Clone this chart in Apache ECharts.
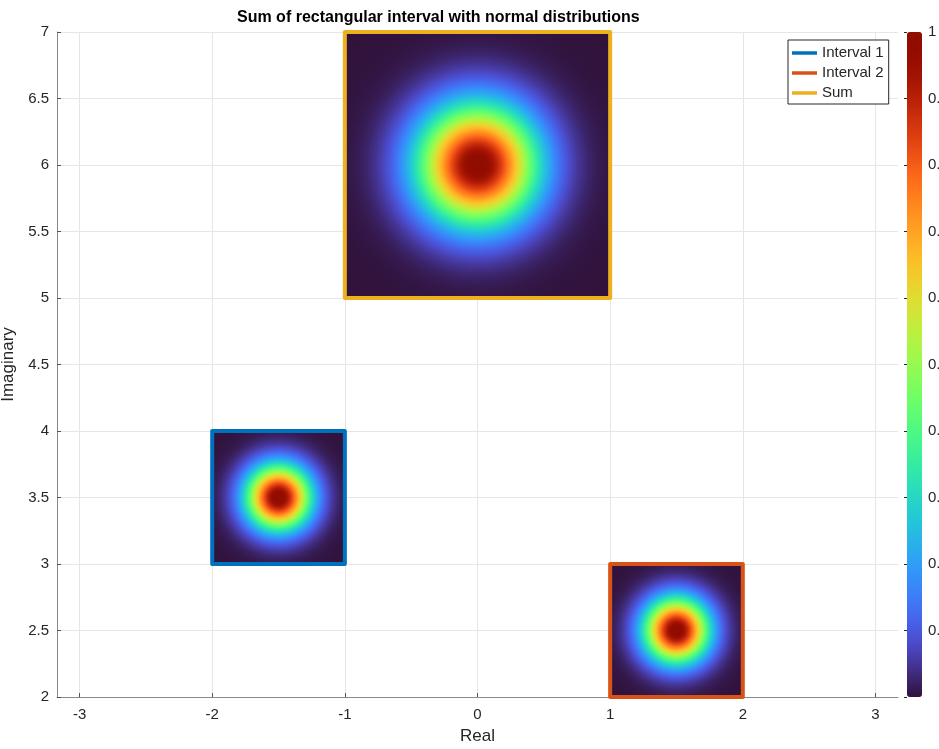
<!DOCTYPE html>
<html><head><meta charset="utf-8">
<script src="https://cdn.jsdelivr.net/npm/echarts@6/dist/echarts.min.js"></script>
<style>html,body{margin:0;padding:0;background:#fff}#c{width:939px;height:749px}</style>
</head><body><div id="c"></div>
<script>
// ---- chart content ----
const titleText = 'Sum of rectangular interval with normal distributions';
const xName = 'Real';
const yName = 'Imaginary';
const seriesNames = ['Interval 1', 'Interval 2', 'Sum'];
const seriesColors = ['#0072BD', '#D95319', '#EDB120'];
// rectangles: [realMin, imagMin, realMax, imagMax]
const rectInterval1 = [-2, 3, -1, 4];
const rectInterval2 = [1, 2, 2, 3];
const rectSum = [-1, 5, 1, 7];
// normal distribution centres [real, imag]
const centerInterval1 = [-1.5, 3.5];
const centerInterval2 = [1.5, 2.5];
const centerSum = [0, 6];
// standard deviation of each normal distribution
const stdInterval1 = 0.163;
const stdInterval2 = 0.163;
const stdSum = 0.305;
// axes
const xRange = [-3.17, 3.17];
const xTicks = [-3, -2, -1, 0, 1, 2, 3];
const yRange = [2, 7];
const yInterval = 0.5;
const cbarRange = [0, 1];
const cbarInterval = 0.1;

const FONT = '"Liberation Sans", Arial, Helvetica, sans-serif';
const TXT = '#262626';

function turboPoly(t) {
  const r = 0.13572138 + t*(4.61539260 + t*(-42.66032258 + t*(132.13108234 + t*(-152.94239396 + t*59.28637943))));
  const g = 0.09140261 + t*(2.19418839 + t*(4.84296658 + t*(-14.18503333 + t*(4.27729857 + t*2.82956604))));
  const b = 0.10667330 + t*(12.64194608 + t*(-60.58204836 + t*(110.36276771 + t*(-89.90310912 + t*27.34824973))));
  return [r, g, b];
}
const TURBO_START = [0.18995, 0.07176, 0.23217];
const BLEND_T = 0.06;
function turbo(t) {
  t = Math.max(0, Math.min(1, t));
  let rgb;
  if (t < BLEND_T) {
    const p = turboPoly(BLEND_T), k = t / BLEND_T;
    rgb = [0, 1, 2].map(i => TURBO_START[i] + (p[i] - TURBO_START[i]) * k);
  } else {
    rgb = turboPoly(t);
  }
  const c = v => Math.round(Math.max(0, Math.min(1, v)) * 255);
  return 'rgb(' + c(rgb[0]) + ',' + c(rgb[1]) + ',' + c(rgb[2]) + ')';
}
const turboColors = [];
for (let i = 0; i <= 64; i++) turboColors.push(turbo(i / 64));

const GRAD_R = 0.72; // gradient radius as fraction of the square side (covers corners)
function gaussGradient(cx, cy, sigFrac) {
  const stops = [];
  const vals = [];
  for (let i = 0; i < 40; i++) vals.push(1 - i / 40);
  vals.push(0.015, 0.008, 0.004, 0.002, 0.001, 0.0003, 0.0001);
  let last = -1;
  vals.forEach(v => {
    let off = sigFrac * Math.sqrt(-2 * Math.log(v)) / GRAD_R;
    off = Math.min(1, off);
    if (off <= last) return;
    last = off;
    stops.push({ offset: off, color: turbo(v) });
  });
  if (last < 1) stops.push({ offset: 1, color: turbo(0) });
  return new echarts.graphic.RadialGradient(cx, cy, GRAD_R, stops);
}

function makeSeries(idx, rect, center, std) {
  return {
    type: 'custom',
    name: seriesNames[idx],
    coordinateSystem: 'cartesian2d',
    xAxisIndex: 0, yAxisIndex: 0,
    silent: true,
    animation: false,
    z: 2 + idx,
    itemStyle: { color: seriesColors[idx] },
    encode: { x: [0, 2, 4], y: [1, 3, 5] },
    data: [rect.concat(center, [std])],
    renderItem: function (params, api) {
      const x0 = api.value(0), y0 = api.value(1), x1 = api.value(2), y1 = api.value(3);
      const tl = api.coord([x0, y1]);
      const br = api.coord([x1, y0]);
      const w = br[0] - tl[0], h = br[1] - tl[1];
      const cx = (api.value(4) - x0) / (x1 - x0);
      const cy = (y1 - api.value(5)) / (y1 - y0);
      const sigFrac = api.value(6) / (x1 - x0);
      return {
        type: 'rect',
        shape: { x: tl[0], y: tl[1], width: w, height: h },
        style: {
          fill: gaussGradient(cx, cy, sigFrac),
          stroke: seriesColors[idx],
          lineWidth: 4,
          lineJoin: 'round'
        }
      };
    }
  };
}

const chart = echarts.init(document.getElementById('c'), null, { renderer: 'canvas' });
chart.setOption({
  animation: false,
  backgroundColor: '#ffffff',
  textStyle: { fontFamily: FONT },
  title: {
    text: titleText,
    left: 237, top: 10, padding: 0,
    textStyle: { fontFamily: FONT, fontSize: 16, fontWeight: 'bold', color: '#000' }
  },
  legend: {
    data: seriesNames,
    left: 788, top: 40,
    orient: 'vertical',
    icon: 'rect',
    itemWidth: 25, itemHeight: 3.5,
    itemGap: 4,
    padding: [5, 5, 3, 4],
    borderColor: '#262626', borderWidth: 1,
    backgroundColor: '#fff',
    selectedMode: false,
    textStyle: { fontFamily: FONT, fontSize: 15, color: TXT, lineHeight: 16 },
    z: 20
  },
  grid: [
    { left: 57, top: 32, right: 41, bottom: 52, containLabel: false, outerBoundsMode: 'none' },
    { left: 907, top: 32, width: 15, height: 665, containLabel: false, outerBoundsMode: 'none' }
  ],
  xAxis: [
    {
      type: 'value', gridIndex: 0, min: xRange[0], max: xRange[1],
      name: xName, nameLocation: 'middle', nameGap: 31,
      nameTextStyle: { fontFamily: FONT, fontSize: 17, color: TXT },
      axisLine: { show: true, onZero: false, lineStyle: { color: '#8a8a8a', width: 1 } },
      axisTick: { show: true, inside: true, length: 4, customValues: xTicks, lineStyle: { color: '#555' } },
      axisLabel: { customValues: xTicks, fontFamily: FONT, fontSize: 15, color: TXT, margin: 10 },
      splitLine: { show: true, lineStyle: { color: '#e6e6e6', width: 1 } }
    },
    { type: 'value', gridIndex: 1, show: false, min: 0, max: 1 }
  ],
  yAxis: [
    {
      type: 'value', gridIndex: 0, min: yRange[0], max: yRange[1], interval: yInterval,
      name: yName, nameLocation: 'middle', nameGap: 34,
      nameTextStyle: { fontFamily: FONT, fontSize: 17, color: TXT },
      axisLine: { show: true, onZero: false, lineStyle: { color: '#8a8a8a', width: 1 } },
      axisTick: { show: true, inside: true, length: 4, lineStyle: { color: '#555' } },
      axisLabel: { fontFamily: FONT, fontSize: 15, color: TXT, margin: 8 },
      splitLine: { show: true, lineStyle: { color: '#e6e6e6', width: 1 } }
    },
    {
      type: 'value', gridIndex: 1, position: 'right',
      min: cbarRange[0], max: cbarRange[1], interval: cbarInterval, z: 10,
      axisLine: { show: false },
      axisTick: { show: true, inside: true, length: 3, lineStyle: { color: '#262626' } },
      axisLabel: {
        fontFamily: FONT, fontSize: 15, color: TXT, margin: 6,
        formatter: v => (v === 0 ? '' : String(+v.toFixed(1)))
      },
      splitLine: { show: false }
    }
  ],
  visualMap: {
    type: 'continuous',
    min: cbarRange[0], max: cbarRange[1],
    seriesIndex: [],
    orient: 'vertical',
    left: 907, top: 32,
    itemWidth: 15, itemHeight: 665,
    padding: 0,
    calculable: false,
    hoverLink: false,
    inRange: { color: turboColors },
    z: 3
  },
  series: [
    makeSeries(0, rectInterval1, centerInterval1, stdInterval1),
    makeSeries(1, rectInterval2, centerInterval2, stdInterval2),
    makeSeries(2, rectSum, centerSum, stdSum)
  ]
});
</script>
</body></html>
